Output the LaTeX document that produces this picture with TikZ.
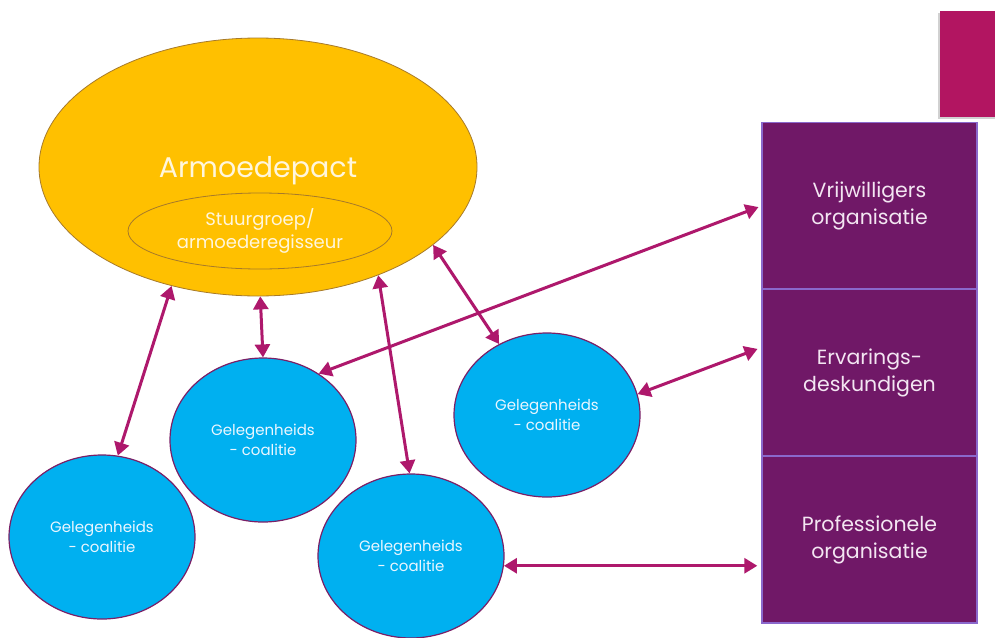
\documentclass[tikz,border=0pt]{standalone}
\usepackage{fontspec}
\setmainfont{Poppins}
\usetikzlibrary{shapes.geometric,arrows.meta}
\definecolor{pactfill}{HTML}{FFC000}
\definecolor{pactline}{HTML}{A77A2A}
\definecolor{pacttext}{HTML}{FFF6DC}
\definecolor{coalfill}{HTML}{00B0F0}
\definecolor{coalline}{HTML}{7A1F66}
\definecolor{coaltext}{HTML}{EAF6FF}
\definecolor{orgfill}{HTML}{701867}
\definecolor{orgline}{HTML}{8A68CC}
\definecolor{orgtext}{HTML}{F3E6F2}
\definecolor{arrowcol}{HTML}{AE186C}
\definecolor{decocol}{HTML}{B21561}
\tikzset{
  coal/.style={ellipse, fill=coalfill, draw=coalline, line width=1.2pt,
    minimum width=186pt, minimum height=164pt, inner sep=0pt, align=center,
    text=coaltext, font=\fontsize{15}{20}\selectfont},
  orgbox/.style={rectangle, fill=orgfill, draw=orgline, line width=1.4pt,
    minimum width=215pt, minimum height=166.7pt, inner sep=0pt, align=center,
    text=orgtext, font=\fontsize{20.5}{27}\selectfont},
  conn/.style={draw=arrowcol, line width=3pt,
    {Triangle[length=13pt,width=15pt]}-{Triangle[length=13pt,width=15pt]}}
}
\begin{document}
\begin{tikzpicture}[x=1pt,y=-1pt]
\useasboundingbox (0,0) rectangle (995,637);
\fill[white] (0,0) rectangle (995,637);
% decorative block
\fill[black!18] (938,13) rectangle (995,119);
\node[fill=decocol, draw=none, inner sep=0pt, minimum width=55pt, minimum height=106pt, anchor=north west] (deco) at (940,11) {};
% pact
\node[ellipse, fill=pactfill, draw=pactline, line width=0.8pt, minimum width=438pt, minimum height=258pt, inner sep=0pt] (pact) at (258,167) {};
\node[text=pacttext, font=\fontsize{28.5}{33}\selectfont, inner sep=0pt] (pactlbl) at (258,171) {Armoedepact};
\node[ellipse, draw=pactline, line width=0.8pt, minimum width=264pt, minimum height=76pt, inner sep=0pt, align=center, text=pacttext, font=\fontsize{18}{23}\selectfont] (stuur) at (260,231) {Stuurgroep/\\armoederegisseur};
% coalitions
\node[coal] (c1) at (102,537) {Gelegenheids\\- coalitie};
\node[coal] (c2) at (263,440) {Gelegenheids\\- coalitie};
\node[coal] (c3) at (411,556) {Gelegenheids\\- coalitie};
\node[coal] (c4) at (547,415) {Gelegenheids\\- coalitie};
% organisations
\node[orgbox] (box1) at (869.5,206) {Vrijwilligers\\organisatie};
\node[orgbox] (box2) at (869.5,372.5) {Ervarings-\\deskundigen};
\node[orgbox] (box3) at (869.5,539.5) {Professionele\\organisatie};
% connectors
\draw[conn] (pact.-126) -- (c1.79);
\draw[conn] (pact.-89) -- (c2.90);
\draw[conn] (pact.-42.5) -- (c3.91);
\draw[conn] (pact.-24.4) -- (c4.124.7);
\draw[conn, shorten >=3pt] (c2.50.8) -- (box1.west);
\draw[conn, shorten >=4pt] (c4.13.6) -- ([yshift=25pt]box2.west);
\draw[conn, shorten >=4pt] (c3.-6.5) -- (c3.-6.5 -| box3.west);
\end{tikzpicture}
\end{document}
